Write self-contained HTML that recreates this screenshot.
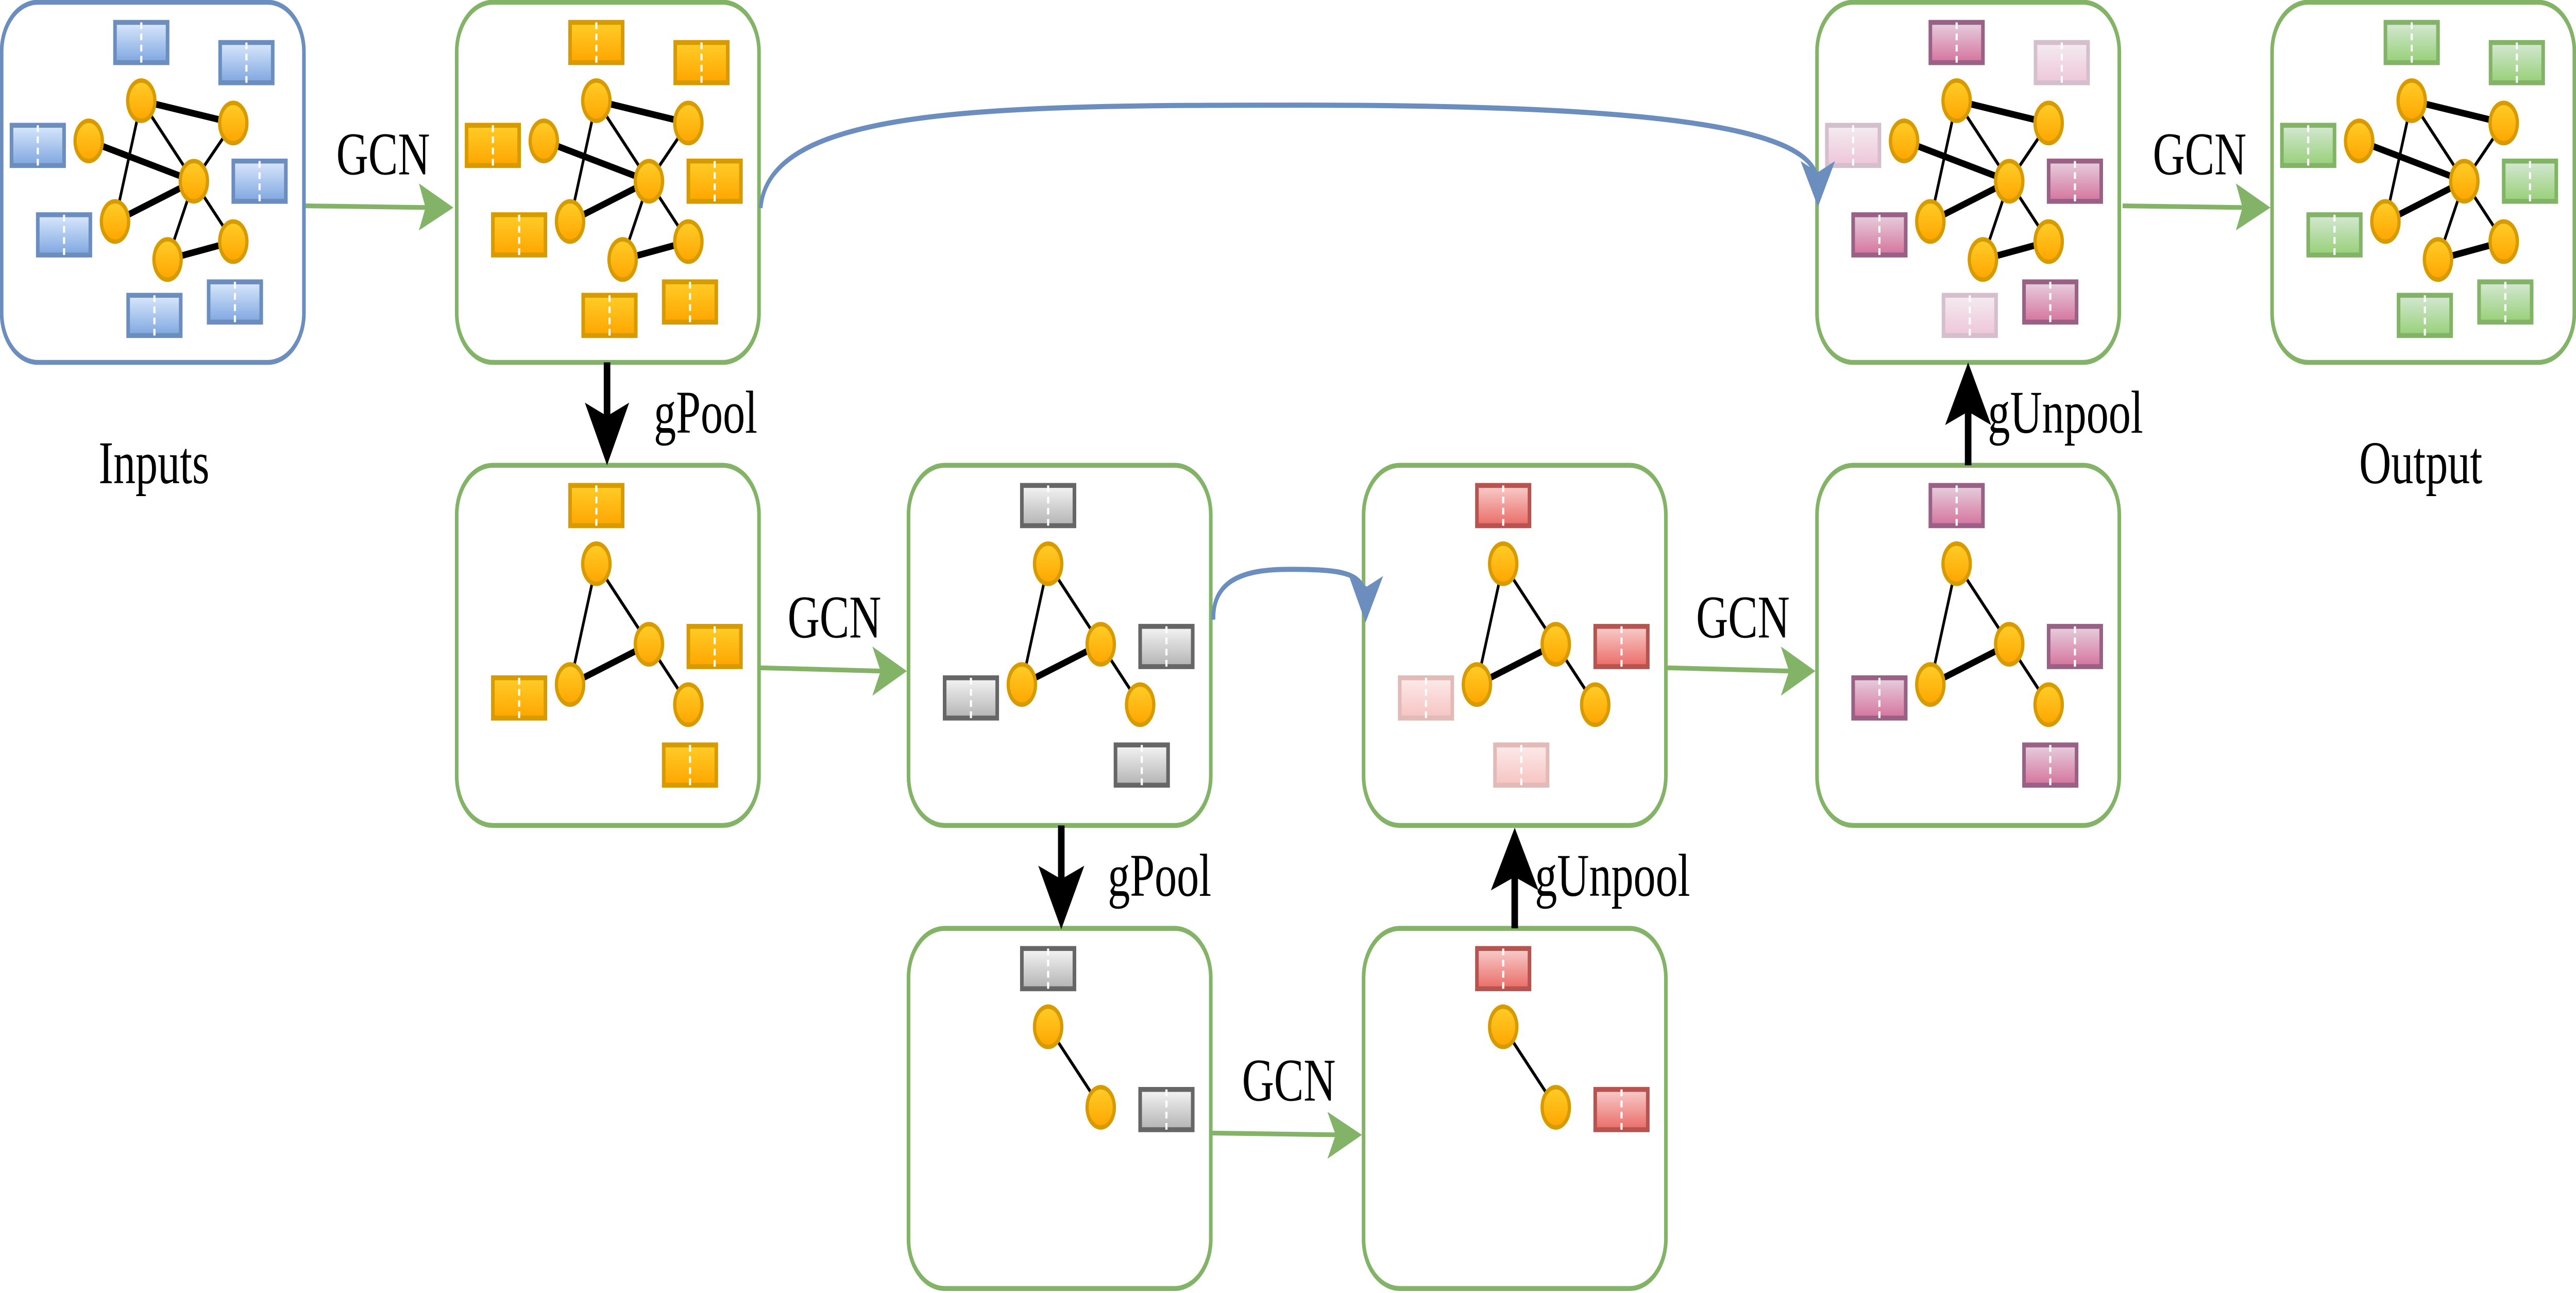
<!DOCTYPE html>
<html><head><meta charset="utf-8">
<style>
html,body{margin:0;padding:0;background:#fff;width:100%;height:100%;overflow:hidden;}
svg{display:block;position:fixed;left:0;top:0;width:100vw;height:100vh;}
text{font-family:"Liberation Serif",serif;font-size:27px;fill:#000;}
</style></head>
<body>
<svg id="s" xmlns="http://www.w3.org/2000/svg" viewBox="0 0 1568 578" preserveAspectRatio="none">
<defs>
<linearGradient id="gBlue" x1="0" y1="0" x2="0" y2="1"><stop offset="0" stop-color="#dae8fc"/><stop offset="1" stop-color="#7ea6e0"/></linearGradient>
<linearGradient id="gOr" x1="0" y1="0" x2="0" y2="1"><stop offset="0" stop-color="#ffcd28"/><stop offset="1" stop-color="#ffa500"/></linearGradient>
<linearGradient id="gGray" x1="0" y1="0" x2="0" y2="1"><stop offset="0" stop-color="#f5f5f5"/><stop offset="1" stop-color="#b3b3b3"/></linearGradient>
<linearGradient id="gRed" x1="0" y1="0" x2="0" y2="1"><stop offset="0" stop-color="#f8cecc"/><stop offset="1" stop-color="#ea6b66"/></linearGradient>
<linearGradient id="gPur" x1="0" y1="0" x2="0" y2="1"><stop offset="0" stop-color="#e6d0de"/><stop offset="1" stop-color="#d5739d"/></linearGradient>
<linearGradient id="gGrn" x1="0" y1="0" x2="0" y2="1"><stop offset="0" stop-color="#d5e8d4"/><stop offset="1" stop-color="#97d077"/></linearGradient>
</defs>
<g id="content"></g>

<path d="M463,93 C468,48 600,47 791,47 C1000,47 1102,56 1106,80" fill="none" stroke="#6c8ebf" stroke-width="2.3"/>
<polygon points="1096,72 1106.6,92.5 1117,72 1106.5,77" fill="#6c8ebf"/>
<path d="M738.6,277 C738,258 760,254.5 785,254.5 C815,254.5 826,256 830,263" fill="none" stroke="#6c8ebf" stroke-width="2.3"/>
<polygon points="821.5,258.3 831.2,278.3 841.9,257.5 832,262.2" fill="#6c8ebf"/>

<g stroke="#82b366" stroke-width="2.1" fill="none">
<line x1="186" y1="92" x2="262" y2="92.8"/>
<line x1="1292" y1="92" x2="1368" y2="92.8"/>
<line x1="462" y1="298.5" x2="538" y2="300"/>
<line x1="1014" y1="298.5" x2="1091" y2="300"/>
<line x1="738" y1="506.5" x2="815" y2="507.3"/>
</g>
<g fill="#82b366">
<polygon points="255,82 276,92.8 255,103 259,92.8"/>
<polygon points="1361,82 1382,92.8 1361,103 1365,92.8"/>
<polygon points="531,289 552,300 531,311 536,300"/>
<polygon points="1084,289 1105,300 1084,311 1089,300"/>
<polygon points="808,497 829,507.3 808,518 813,507.3"/>
</g>

<g stroke="#000" stroke-width="4">
<line x1="369.5" y1="162" x2="369.5" y2="188"/>
<line x1="646" y1="369" x2="646" y2="395"/>
<line x1="922" y1="415" x2="922" y2="390"/>
<line x1="1198" y1="208" x2="1198" y2="182"/>
</g>
<g fill="#000">
<polygon points="356,180 369.5,208 383,180 369.5,186"/>
<polygon points="632,387 646,415.4 660,387 646,393"/>
<polygon points="907.5,398 922,370 936.5,398 922,392"/>
<polygon points="1184,190 1198,162 1212,190 1198,184"/>
</g>

<text x="204.7" y="78">GCN</text>
<text x="1310.4" y="78">GCN</text>
<text x="479.4" y="285">GCN</text>
<text x="1032.4" y="285">GCN</text>
<text x="756" y="492">GCN</text>
<text x="398" y="193.4">gPool</text>
<text x="674.3" y="400.4">gPool</text>
<text x="1210" y="193.4">gUnpool</text>
<text x="934.3" y="400.4">gUnpool</text>
<text x="60" y="216">Inputs</text>
<text x="1436" y="216">Output</text>
<script>
(function(){
var NS="http://www.w3.org/2000/svg";
var g=document.getElementById("content");
function el(t,a){var e=document.createElementNS(NS,t);for(var k in a)e.setAttribute(k,a[k]);g.appendChild(e);return e;}
var C={b:["url(#gBlue)","#6c8ebf",1],o:["url(#gOr)","#d79b00",1],g:["url(#gGray)","#666666",1],
 r:["url(#gRed)","#b85450",1],rl:["url(#gRed)","#b85450",0.4],p:["url(#gPur)","#996185",1],pl:["url(#gPur)","#996185",0.4],n:["url(#gGrn)","#82b366",1]};
var N={A:[85,44],B:[141,54],C:[53,62],D:[117,80],E:[69,98],F:[141,107],G:[101,115]};
var R1=[[68,8],[132,17],[5,54],[140,70],[21,94],[76,130],[125,124]];
var E1=[["A","B",3],["A","E",1.6],["A","D",1.6],["C","D",3],["B","D",1.6],["D","E",3],["D","G",1.6],["D","F",1.6],["G","F",3]];
var E2=[["A","E",1.6],["A","D",1.6],["D","E",3],["D","F",1.6]];
var E3=[["A","D",1.6]];
function box(x,y,col){el("rect",{x:x,y:y,width:184,height:161,rx:22,ry:22,fill:"#fff",stroke:col,"stroke-width":2.2});}
function rect(bx,by,p,c){var s=C[c];var gg=el("g",{opacity:s[2]});
 var r=document.createElementNS(NS,"rect");r.setAttribute("x",bx+p[0]+1);r.setAttribute("y",by+p[1]+1);r.setAttribute("width",32);r.setAttribute("height",18);r.setAttribute("fill",s[0]);r.setAttribute("stroke",s[1]);r.setAttribute("stroke-width",2.2);gg.appendChild(r);
 var l=document.createElementNS(NS,"line");var cx=bx+p[0]+17;l.setAttribute("x1",cx);l.setAttribute("x2",cx);l.setAttribute("y1",by+p[1]+1);l.setAttribute("y2",by+p[1]+19);l.setAttribute("stroke","#fff");l.setAttribute("stroke-width",1.3);l.setAttribute("stroke-dasharray","3 2");gg.appendChild(l);}
function graph(bx,by,edges,nodes){
 edges.forEach(function(e){var a=N[e[0]],b=N[e[1]];el("line",{x1:bx+a[0],y1:by+a[1],x2:bx+b[0],y2:by+b[1],stroke:"#000","stroke-width":e[2]});});
 nodes.forEach(function(k){var n=N[k];el("ellipse",{cx:bx+n[0],cy:by+n[1],rx:8.3,ry:9,fill:"url(#gOr)",stroke:"#d79b00","stroke-width":2});});}
var all=["A","B","C","D","E","F","G"];
[[1,"#6c8ebf",["b","b","b","b","b","b","b"]],[278,"#82b366",["o","o","o","o","o","o","o"]],
 [1106,"#82b366",["p","pl","pl","p","p","pl","p"]],[1383,"#82b366",["n","n","n","n","n","n","n"]]].forEach(function(b){
 box(b[0],1,b[1]);R1.forEach(function(p,i){rect(b[0],1,p,b[2][i]);});graph(b[0],1,E1,all);});
var R2=[[68,8],[140,71],[21,94],[125,124]];
[[278,["o","o","o","o"],R2],[553,["g","g","g","g"],R2],[830,["r","r","rl","rl"],[[68,8],[140,71],[21,94],[79,124]]],[1106,["p","p","p","p"],R2]].forEach(function(b){
 box(b[0],208,"#82b366");b[2].forEach(function(p,i){rect(b[0],208,p,b[1][i]);});graph(b[0],208,E2,["A","D","E","F"]);});
[[553,"g"],[830,"r"]].forEach(function(b){box(b[0],415,"#82b366");rect(b[0],415,[68,8],b[1]);rect(b[0],415,[140,71],b[1]);graph(b[0],415,E3,["A","D"]);});
})();
</script>
</svg>
</body></html>
